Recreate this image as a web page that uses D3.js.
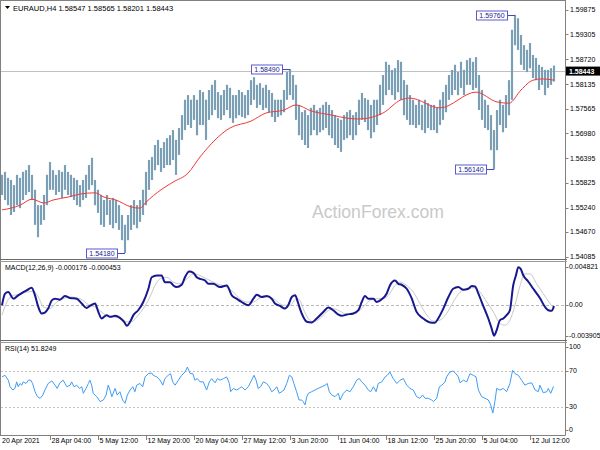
<!DOCTYPE html>
<html><head><meta charset="utf-8">
<script src="https://cdn.jsdelivr.net/npm/d3@7"></script>
<style>html,body{margin:0;padding:0;background:#fff;}svg{display:block;font-family:"Liberation Sans",Arial,sans-serif;}</style>
</head><body>
<script>
// ---------------- DATA ----------------
const symbol = "EURAUD,H4";
const ohlcLast = ["1.58547","1.58565","1.58201","1.58443"];
const lastPrice = 1.58443;
const tickBars = [0,16,32,48,64,80,96,112,128,144,160,176];
const tickLabels = ["20 Apr 2021","28 Apr 04:00","5 May 12:00","12 May 20:00","20 May 04:00","27 May 12:00","3 Jun 20:00","11 Jun 04:00","18 Jun 12:00","25 Jun 20:00","5 Jul 04:00","12 Jul 12:00"];
const priceTicks = [1.59875,1.59305,1.58720,1.58135,1.57565,1.56980,1.56395,1.55825,1.55240,1.54670,1.54085];
const macdTicks = [0.004821,0,-0.003905];
const macdTickLabels = ["0.004821","0.00","-0.003905"];
const rsiTicks = [100,70,30,0];
const rsiLevels = [70,30];

const highs = [
1.5601,1.5608,1.5594,1.5589,1.5577,1.5601,1.5594,1.5608,1.5612,1.5624,
1.5601,1.5566,1.5530,1.5530,1.5554,1.5601,1.5631,1.5612,1.5601,1.5612,
1.5608,1.5624,1.5608,1.5601,1.5594,1.5589,1.5577,1.5589,1.5601,1.5624,
1.5641,1.5589,1.5566,1.5554,1.5542,1.5554,1.5542,1.5547,1.5542,1.5530,
1.5507,1.5484,1.5507,1.5530,1.5542,1.5530,1.5542,1.5566,1.5608,1.5636,
1.5643,1.5671,1.5683,1.5664,1.5678,1.5687,1.5694,1.5706,1.5683,1.5711,
1.5741,1.5777,1.5788,1.5777,1.5788,1.5777,1.5800,1.5795,1.5777,1.5800,
1.5812,1.5823,1.5795,1.5788,1.5800,1.5812,1.5805,1.5788,1.5788,1.5800,
1.5795,1.5788,1.5800,1.5823,1.5830,1.5812,1.5816,1.5805,1.5812,1.5800,
1.5793,1.5777,1.5777,1.5777,1.5800,1.5842,1.5849,1.5835,1.5812,1.5765,
1.5748,1.5753,1.5741,1.5758,1.5765,1.5753,1.5758,1.5765,1.5772,1.5765,
1.5753,1.5741,1.5734,1.5730,1.5741,1.5748,1.5753,1.5741,1.5748,1.5777,
1.5793,1.5781,1.5777,1.5765,1.5777,1.5777,1.5812,1.5835,1.5866,1.5859,
1.5847,1.5851,1.5870,1.5866,1.5823,1.5812,1.5788,1.5777,1.5765,1.5777,
1.5765,1.5777,1.5769,1.5765,1.5765,1.5758,1.5777,1.5795,1.5812,1.5835,
1.5847,1.5859,1.5842,1.5866,1.5847,1.5870,1.5875,1.5866,1.5877,1.5835,
1.5800,1.5777,1.5765,1.5741,1.5706,1.5753,1.5777,1.5765,1.5788,1.5823,
1.5941,1.5976,1.5968,1.5929,1.5905,1.5894,1.5910,1.5882,1.5875,1.5859,
1.5854,1.5847,1.5847,1.5851,1.5857];
const lows = [
1.5554,1.5542,1.5530,1.5507,1.5514,1.5530,1.5523,1.5542,1.5554,1.5561,
1.5542,1.5484,1.5455,1.5484,1.5495,1.5530,1.5566,1.5566,1.5554,1.5561,
1.5547,1.5566,1.5554,1.5549,1.5542,1.5530,1.5526,1.5542,1.5547,1.5566,
1.5577,1.5530,1.5512,1.5484,1.5479,1.5507,1.5484,1.5476,1.5488,1.5472,
1.5448,1.5418,1.5448,1.5472,1.5484,1.5476,1.5491,1.5507,1.5530,1.5566,
1.5589,1.5612,1.5624,1.5608,1.5617,1.5624,1.5624,1.5636,1.5601,1.5648,
1.5683,1.5706,1.5718,1.5711,1.5730,1.5694,1.5718,1.5718,1.5683,1.5730,
1.5741,1.5753,1.5734,1.5730,1.5741,1.5753,1.5734,1.5723,1.5734,1.5741,
1.5737,1.5734,1.5741,1.5765,1.5777,1.5758,1.5765,1.5753,1.5758,1.5748,
1.5737,1.5725,1.5737,1.5741,1.5748,1.5777,1.5788,1.5777,1.5730,1.5694,
1.5683,1.5671,1.5664,1.5694,1.5706,1.5694,1.5701,1.5706,1.5711,1.5694,
1.5687,1.5671,1.5664,1.5655,1.5683,1.5687,1.5694,1.5683,1.5694,1.5718,
1.5730,1.5725,1.5706,1.5687,1.5701,1.5718,1.5741,1.5765,1.5788,1.5800,
1.5788,1.5777,1.5795,1.5777,1.5741,1.5730,1.5718,1.5718,1.5711,1.5718,
1.5706,1.5699,1.5711,1.5706,1.5706,1.5699,1.5718,1.5730,1.5748,1.5777,
1.5788,1.5800,1.5788,1.5805,1.5788,1.5812,1.5812,1.5800,1.5805,1.5753,
1.5730,1.5711,1.5706,1.5659,1.5614,1.5659,1.5718,1.5701,1.5711,1.5741,
1.5777,1.5905,1.5894,1.5859,1.5847,1.5842,1.5851,1.5828,1.5823,1.5800,
1.5812,1.5788,1.5805,1.5812,1.5820];

const maPts = [[0,1.5519],[3,1.5523],[6,1.5530],[10,1.5544],[14,1.5535],[17,1.5542],[22,1.5549],[26,1.5556],[31,1.5559],[34,1.5549],[38,1.5542],[43,1.5526],[46,1.5523],[48,1.5537],[53,1.5566],[57,1.5584],[62,1.5605],[66,1.5643],[76,1.5711],[83,1.5727],[88,1.5746],[94,1.5753],[98,1.5765],[103,1.5751],[110,1.5741],[115,1.5734],[119,1.5732],[127,1.5746],[133,1.5777],[136,1.5781],[146,1.5758],[158,1.5795],[165,1.5772],[169,1.5769],[173,1.5800],[177,1.5823],[180,1.5826],[184,1.5823]];

const extremes = [[96,1.5849,"1.58490"],[41,1.5418,"1.54180"],[164,1.5614,"1.56140"],[171,1.5976,"1.59760"]];

const macdMain = [[0,-0.00006],[1.0,0.0014],[2.1,0.0016],[3.8,0.00077],[5.4,0.00119],[7.1,0.0016],[8.2,0.00182],[9.9,0.00215],[11.0,0.00119],[12.1,-0.00027],[13.2,-0.0011],[14.3,-0.00098],[15.4,-0.00048],[16.6,0.00056],[17.7,0.00077],[19.3,0.00065],[21.0,0.0011],[22.7,0.00086],[24.9,0.00077],[26.6,0.00015],[28.2,-0.0004],[29.3,-0.00015],[31.0,0.00015],[32.1,-0.0009],[33.2,-0.00173],[34.9,-0.00131],[36.0,-0.00152],[37.7,-0.0014],[39.3,-0.00165],[40.7,-0.00215],[41.6,-0.00265],[42.7,-0.00215],[43.8,-0.00131],[45.4,-0.00069],[47.1,0.00035],[48.8,0.00202],[49.9,0.00348],[51.6,0.00369],[53.2,0.00369],[54.3,0.00286],[56.0,0.00286],[57.1,0.00244],[58.2,0.00223],[59.9,0.00253],[61.0,0.00348],[62.4,0.00419],[63.8,0.00403],[64.9,0.00348],[66.0,0.00328],[67.7,0.00307],[68.8,0.00265],[70.4,0.00265],[72.7,0.00223],[74.9,0.00244],[76.6,0.00119],[78.2,0.00077],[79.9,0.00035],[82.1,-0.00006],[83.8,0.00077],[84.9,0.00127],[86.6,0.00098],[88.2,0.0011],[89.9,0.00077],[91.0,0.00015],[92.7,-0.00015],[94.3,-0.00048],[95.4,-0.00006],[96.6,0.00098],[97.7,0.00119],[98.6,0.00035],[99.3,-0.00048],[100.4,-0.00152],[101.6,-0.00215],[103.2,-0.00223],[104.9,-0.00173],[107.1,-0.0009],[108.8,-0.00035],[110.4,-0.00069],[112.1,-0.00123],[113.2,-0.0014],[114.9,-0.00123],[117.1,-0.0011],[118.8,-0.00069],[119.9,0.00035],[121.0,0.0011],[122.1,0.00077],[123.8,0.00077],[124.9,0.00035],[126.6,0.00069],[128.2,0.0014],[129.3,0.00244],[131.0,0.00307],[132.1,0.00265],[133.2,0.00253],[134.9,0.00202],[136.6,0.00077],[138.2,-0.0009],[140.4,-0.00173],[142.7,-0.00223],[144.3,-0.00227],[145.4,-0.00173],[147.1,-0.00048],[148.8,0.00098],[150.4,0.00202],[152.1,0.00223],[153.8,0.0019],[155.4,0.00202],[156.6,0.00236],[157.7,0.00232],[158.8,0.0014],[159.9,0.00035],[161.0,-0.00069],[162.1,-0.00173],[163.2,-0.00298],[164.0,-0.0039],[164.9,-0.00319],[166.0,-0.00194],[167.1,-0.00173],[168.2,-0.00131],[169.3,-0.00069],[170.4,0.00244],[171.3,0.00369],[172.1,0.00474],[172.9,0.00453],[173.8,0.00369],[175.4,0.00294],[177.1,0.00202],[179.3,0.00086],[181.0,-0.00027],[182.1,-0.00069],[183.2,-0.00077],[184,-0.000176]];

const macdSignal = [[0,-0.00131],[1.6,0.00035],[3.8,0.00119],[6.0,0.00131],[8.2,0.0016],[10.4,0.00169],[12.1,0.00098],[13.8,-0.00027],[16.0,-0.00048],[18.2,0.00035],[20.4,0.00077],[22.7,0.00098],[26.0,0.00077],[28.8,0.00002],[31.6,-0.0004],[33.8,-0.0011],[36.0,-0.00152],[39.3,-0.00165],[41.6,-0.00215],[43.2,-0.00215],[44.9,-0.00152],[47.1,-0.00048],[49.3,0.00098],[51.0,0.00244],[52.7,0.00328],[54.9,0.00348],[57.1,0.00286],[59.3,0.00265],[61.6,0.00328],[63.8,0.0039],[66.0,0.00369],[68.2,0.00328],[71.6,0.00265],[74.9,0.00223],[77.1,0.0016],[79.3,0.00077],[81.6,0.00035],[83.8,0.00035],[86.0,0.00086],[88.2,0.00098],[90.4,0.00077],[93.8,-0.00006],[96.0,-0.00006],[98.2,0.00077],[99.3,0.00056],[100.4,-0.00048],[102.1,-0.00173],[103.8,-0.00215],[106.0,-0.00173],[108.2,-0.0009],[110.4,-0.00048],[112.7,-0.00081],[114.9,-0.00123],[117.7,-0.0011],[119.3,-0.00069],[121.0,-0.00006],[122.7,0.00056],[124.9,0.00077],[127.1,0.00077],[128.8,0.00119],[131.0,0.00244],[132.7,0.00286],[134.9,0.00244],[137.1,0.0016],[139.3,0.00015],[141.6,-0.00131],[143.8,-0.00207],[146.0,-0.00194],[148.2,-0.0011],[150.4,0.00035],[152.7,0.0016],[154.9,0.00202],[157.1,0.00215],[159.3,0.0016],[161.6,0.00035],[163.8,-0.0009],[166.0,-0.00236],[167.7,-0.00257],[169.3,-0.00194],[171.0,-0.00006],[172.7,0.00244],[174.3,0.0039],[176.0,0.0039],[178.2,0.00265],[180.4,0.0014],[182.7,0.00015],[184,-0.000453]];

const rsiPts = [[0,63.4],[1.0,65.2],[2.1,59.7],[2.7,52.3],[3.6,48.6],[4.3,50.4],[4.9,57.8],[5.4,52.3],[6.0,56.0],[6.6,54.1],[7.1,57.8],[8.0,56.0],[8.8,59.7],[9.6,59.7],[10.2,56.0],[11.0,46.7],[11.8,41.1],[12.7,39.3],[13.6,43.0],[14.3,48.6],[15.4,56.0],[16.6,58.9],[17.7,54.1],[18.4,50.4],[19.3,56.7],[20.4,59.7],[21.0,56.0],[21.6,52.3],[22.7,54.1],[23.2,57.8],[24.0,52.3],[24.9,54.1],[25.8,50.4],[26.6,52.3],[27.1,44.9],[28.0,50.4],[28.8,56.0],[29.3,59.7],[29.9,54.1],[30.4,44.9],[31.6,41.1],[32.7,35.6],[33.8,37.4],[34.7,43.0],[35.4,54.1],[36.0,48.6],[36.6,41.1],[37.7,50.4],[38.4,43.0],[39.3,46.7],[40.2,37.4],[41.0,33.7],[41.8,43.0],[42.7,48.6],[43.6,52.3],[44.3,46.7],[44.9,54.1],[46.0,56.0],[46.9,52.3],[47.7,63.4],[48.8,67.1],[49.9,67.8],[50.4,65.2],[51.6,63.4],[52.7,59.7],[53.6,54.1],[54.3,61.5],[55.4,65.2],[56.2,67.1],[56.9,57.8],[57.7,54.1],[58.8,59.7],[59.9,65.2],[61.0,68.9],[61.8,74.5],[62.7,67.1],[63.6,67.1],[64.3,59.7],[65.1,61.5],[66.0,57.8],[67.1,57.8],[68.2,48.6],[69.1,57.8],[69.9,61.5],[71.0,56.7],[71.8,61.5],[72.7,59.7],[73.8,61.5],[74.9,63.4],[75.8,56.0],[76.2,46.7],[77.1,50.4],[78.2,48.6],[79.1,50.4],[79.9,52.3],[81.0,48.6],[82.1,52.3],[83.2,59.7],[84.0,65.2],[84.7,59.7],[85.4,50.4],[86.2,52.3],[87.1,57.8],[88.2,56.0],[89.1,52.3],[89.9,46.7],[90.7,48.6],[91.6,52.3],[92.4,44.9],[93.2,46.7],[94.0,48.6],[94.9,56.0],[95.8,65.2],[96.6,63.4],[97.3,56.0],[98.2,46.7],[99.0,37.4],[99.9,37.4],[100.4,35.6],[101.0,31.9],[101.6,41.1],[102.1,44.9],[103.2,46.7],[104.3,48.6],[105.4,50.4],[106.6,52.3],[107.7,54.1],[108.4,56.0],[109.1,46.7],[109.9,43.0],[111.0,41.1],[112.1,44.9],[112.7,37.4],[113.8,44.9],[114.9,48.6],[116.0,46.7],[117.1,52.3],[118.2,59.7],[119.1,61.5],[119.9,57.8],[121.0,54.1],[122.1,48.6],[122.9,46.7],[123.8,52.3],[124.7,46.7],[125.4,56.0],[126.6,57.8],[127.7,63.4],[128.4,65.2],[129.3,68.9],[130.4,61.5],[131.6,56.0],[132.7,59.7],[133.8,61.5],[134.9,54.1],[136.0,50.4],[137.1,48.6],[138.2,41.1],[139.3,39.3],[140.2,43.0],[141.0,39.3],[142.1,39.3],[143.2,37.4],[143.8,35.6],[144.9,39.3],[145.8,52.3],[146.6,54.1],[147.7,57.8],[148.2,63.4],[149.3,68.9],[150.4,70.0],[151.3,67.1],[152.1,63.4],[152.7,56.7],[153.8,59.7],[154.9,57.8],[156.0,67.1],[157.1,65.2],[158.0,63.4],[158.8,48.6],[159.9,41.1],[161.0,39.3],[162.1,37.4],[162.9,31.9],[163.6,22.6],[164.3,35.6],[164.9,50.4],[166.0,48.6],[167.1,50.4],[168.2,46.7],[169.3,56.0],[170.2,70.8],[171.0,67.1],[172.1,65.2],[173.2,59.7],[174.3,54.1],[175.4,56.0],[176.6,56.7],[177.7,48.6],[178.8,46.7],[179.3,54.1],[180.4,45.6],[181.6,46.7],[182.1,50.4],[182.9,44.9],[183.8,52.3],[184,51.8]];

// ---------------- DRAW ----------------
const W = 600, H = 450;
const right = 565.5;
const svg = d3.select("body").append("svg").attr("width",W).attr("height",H);
svg.append("rect").attr("width",W).attr("height",H).attr("fill","#fff");

const x = d3.scaleLinear().domain([0, highs.length-1]).range([2, 554]);
const y = d3.scaleLinear().domain([1.54085, 1.59875]).range([257, 10]);
const ym = d3.scaleLinear().domain([-0.003905, 0.004821]).range([335.7, 266.6]);
const yr = d3.scaleLinear().domain([0, 100]).range([433.2, 344.4]);

const fs = 7;
const txt = (g, xx, yy, s, o={}) => g.append("text").attr("x",xx).attr("y",yy).attr("dy","0.35em")
  .attr("font-size",o.size||fs).attr("fill",o.fill||"#000").attr("text-anchor",o.anchor||"start").text(s);

// watermark
svg.append("text").attr("x",312).attr("y",218).attr("font-size",19).attr("fill","#c9c9c9")
  .attr("textLength",132).attr("lengthAdjust","spacingAndGlyphs").text("ActionForex.com");

// current price line
svg.append("line").attr("x1",1).attr("x2",right).attr("y1",Math.round(y(lastPrice))+0.5).attr("y2",Math.round(y(lastPrice))+0.5)
  .attr("stroke","#c0c0c0").attr("stroke-width",1);

// bars
const bars = svg.append("g");
highs.forEach((h,i)=>{
  bars.append("line").attr("x1",x(i)).attr("x2",x(i)).attr("y1",y(h)).attr("y2",y(lows[i]))
    .attr("stroke","#9ab9cb").attr("stroke-width",2.2);
  bars.append("line").attr("x1",x(i)).attr("x2",x(i)).attr("y1",y(h)).attr("y2",y(lows[i]))
    .attr("stroke","#55819b").attr("stroke-width",0.9);
});

// MA
svg.append("path").datum(maPts).attr("fill","none").attr("stroke","#f03a3a").attr("stroke-width",1)
  .attr("d", d3.line().x(d=>x(d[0])).y(d=>y(d[1])).curve(d3.curveMonotoneX));

// extremes labels
extremes.forEach(([b,p,lab])=>{
  const bx = x(b), py = Math.round(y(p))+0.5, w = 31, bxr = bx - 8;
  svg.append("line").attr("x1",bxr).attr("x2",bx).attr("y1",py).attr("y2",py).attr("stroke","#4646b8").attr("stroke-width",1);
  svg.append("rect").attr("x",Math.round(bxr-w)+0.5).attr("y",py-4.5).attr("width",w).attr("height",9)
    .attr("fill","#fff").attr("stroke","#5a5ad0").attr("stroke-width",1);
  txt(svg, bxr-w/2+0.5, py, lab, {anchor:"middle", fill:"#23238c"});
});

// MACD
svg.append("line").attr("x1",1).attr("x2",right).attr("y1",Math.round(ym(0))+0.5).attr("y2",Math.round(ym(0))+0.5)
  .attr("stroke","#b8b8b8").attr("stroke-dasharray","3,2");
svg.append("path").datum(macdSignal).attr("fill","none").attr("stroke","#c8c8c8").attr("stroke-width",1)
  .attr("d", d3.line().x(d=>x(d[0])).y(d=>ym(d[1])).curve(d3.curveMonotoneX));
svg.append("path").datum(macdMain).attr("fill","none").attr("stroke","#17178f").attr("stroke-width",2)
  .attr("d", d3.line().x(d=>x(d[0])).y(d=>ym(d[1])).curve(d3.curveMonotoneX));

// RSI
rsiLevels.forEach(l=>{
  svg.append("line").attr("x1",1).attr("x2",right).attr("y1",Math.round(yr(l))+0.5).attr("y2",Math.round(yr(l))+0.5)
    .attr("stroke","#c4c4c4").attr("stroke-dasharray","2,2");
});
svg.append("path").datum(rsiPts).attr("fill","none").attr("stroke","#3f9cf5").attr("stroke-width",1)
  .attr("d", d3.line().x(d=>x(d[0])).y(d=>yr(d[1])));

// frames
const fr = svg.append("g").attr("stroke","#808080").attr("fill","none");
fr.append("line").attr("x1",0.5).attr("x2",0.5).attr("y1",0).attr("y2",435.5);
fr.append("line").attr("x1",right).attr("x2",right).attr("y1",0).attr("y2",435.5);
fr.append("line").attr("x1",0).attr("x2",right).attr("y1",0.5).attr("y2",0.5);
fr.append("line").attr("x1",0).attr("x2",right).attr("y1",435.5).attr("y2",435.5);
[[259.5,261.5],[340.5,342.5]].forEach(([a,b])=>{
  fr.append("line").attr("x1",0).attr("x2",567).attr("y1",a).attr("y2",a).attr("stroke","#6a6a6a");
  fr.append("line").attr("x1",0).attr("x2",567).attr("y1",b).attr("y2",b).attr("stroke","#9a9a9a");
});

// right axes
const ax = svg.append("g");
const clampY = (v, lo, hi) => Math.max(lo, Math.min(hi, v));
priceTicks.forEach(p=>{
  const yy = y(p);
  ax.append("line").attr("x1",right).attr("x2",right+3).attr("y1",Math.round(yy)+0.5).attr("y2",Math.round(yy)+0.5).attr("stroke","#808080");
  txt(ax, 570, yy, p.toFixed(5));
});
macdTicks.forEach((v,i)=>{
  const yy = clampY(ym(v), 265, 335.5);
  ax.append("line").attr("x1",right).attr("x2",right+3).attr("y1",Math.round(yy)+0.5).attr("y2",Math.round(yy)+0.5).attr("stroke","#808080");
  txt(ax, 569, yy, macdTickLabels[i]);
});
rsiTicks.forEach(v=>{
  const yy = clampY(yr(v), 347, 429.5);
  ax.append("line").attr("x1",right).attr("x2",right+3).attr("y1",Math.round(yy)+0.5).attr("y2",Math.round(yy)+0.5).attr("stroke","#808080");
  txt(ax, 569, yy, String(v));
});

// last price box
const ly = y(lastPrice);
svg.append("rect").attr("x",566).attr("y",ly-4.5).attr("width",34).attr("height",9).attr("fill","#000");
txt(svg, 569, ly, lastPrice.toFixed(5), {fill:"#fff"}).attr("font-weight","bold");

// time axis
tickBars.forEach((b,i)=>{
  const xx = Math.round(x(b))+0.5;
  if (i>0) svg.append("line").attr("x1",xx).attr("x2",xx).attr("y1",435.5).attr("y2",440).attr("stroke","#808080");
  txt(svg, i===0 ? 2 : xx+1, 441, tickLabels[i]);
});

// titles
svg.append("path").attr("d","M5,6 L10,6 L7.5,9 Z").attr("fill","#000");
txt(svg, 13, 8, symbol + "  " + ohlcLast.join(" "), {size:7.5});
txt(svg, 5, 268, "MACD(12,26,9) -0.000176 -0.000453");
txt(svg, 5, 349, "RSI(14) 51.8249");
</script>
</body></html>
